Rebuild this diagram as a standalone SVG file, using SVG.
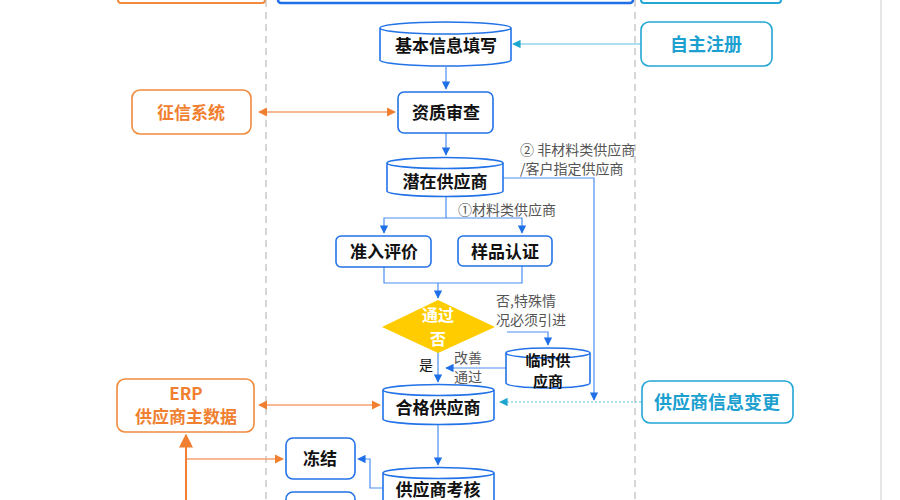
<svg xmlns="http://www.w3.org/2000/svg" width="900" height="500" viewBox="0 0 900 500">
<defs>
<style>
text{font-family:"Noto Sans CJK SC","Liberation Sans",sans-serif;}
.n{fill:#fff;stroke:#2272E8;stroke-width:1.6}
.o{fill:#fff;stroke:#F08A3C;stroke-width:1.6}
.c{fill:#fff;stroke:#23A7D4;stroke-width:1.6}
.t{font-size:17px;font-weight:bold;fill:#111;text-anchor:middle}
.to{font-size:17px;font-weight:bold;fill:#F08030;text-anchor:middle}
.tc{font-size:18px;font-weight:bold;fill:#1BA0CF;text-anchor:middle}
.lb{font-size:14px;fill:#555}
.b{fill:none;stroke:#4A8FF0;stroke-width:1.2}
.or{fill:none;stroke:#F5A070;stroke-width:1.3}
.cy{fill:none;stroke:#5CC0E0;stroke-width:1.2}
</style>
<marker id="ab" viewBox="0 0 10 10" refX="9" refY="5" markerWidth="7" markerHeight="7" orient="auto-start-reverse"><path d="M0,0L10,5L0,10z" fill="#1E6FE8"/></marker>
<marker id="ao" viewBox="0 0 10 10" refX="9" refY="5" markerWidth="7" markerHeight="7" orient="auto-start-reverse"><path d="M0,0L10,5L0,10z" fill="#F08030"/></marker>
<marker id="ac" viewBox="0 0 10 10" refX="9" refY="5" markerWidth="7" markerHeight="7" orient="auto-start-reverse"><path d="M0,0L10,5L0,10z" fill="#1BA6D0"/></marker>
</defs>
<rect width="900" height="500" fill="#fff"/>
<line x1="881" y1="0" x2="881" y2="500" stroke="#ddd" stroke-width="1.5"/>
<rect x="118" y="-6" width="147" height="9" rx="3" fill="#fff" stroke="#F08A3C" stroke-width="2"/>
<rect x="278" y="-6" width="355" height="9" rx="3" fill="#fff" stroke="#1E6FE8" stroke-width="2.5"/>
<rect x="641" y="-6" width="140" height="9" rx="3" fill="#fff" stroke="#23A7D4" stroke-width="2"/>
<line x1="266" y1="0" x2="266" y2="500" stroke="#bbb" stroke-width="1.2" stroke-dasharray="7,5"/>
<line x1="635" y1="0" x2="635" y2="500" stroke="#bbb" stroke-width="1.2" stroke-dasharray="7,5"/>

<g id="connectors">
<path class="b" d="M446,67V89" marker-end="url(#ab)"/>
<path class="cy" d="M641,44H513" marker-end="url(#ac)"/>
<path class="or" d="M259,112H395" marker-start="url(#ao)" marker-end="url(#ao)"/>
<path class="b" d="M446,133V155" marker-end="url(#ab)"/>
<path class="b" d="M503,178H594V400" marker-end="url(#ab)"/>
<path class="b" d="M446,197V218H384V233" marker-end="url(#ab)"/>
<path class="b" d="M446,218H522V233" marker-end="url(#ab)"/>
<path class="b" d="M384,267V283H522V266"/>
<path class="b" d="M438,283V298" marker-end="url(#ab)"/>
<path class="b" d="M507,332H548V345" marker-end="url(#ab)"/>
<path class="b" d="M506,368H446" marker-end="url(#ab)"/>
<path class="b" d="M438,352V382" marker-end="url(#ab)"/>
<path class="cy" d="M641,402H500" stroke-dasharray="2,2" marker-end="url(#ac)"/>
<path class="or" d="M259,405H380" marker-start="url(#ao)" marker-end="url(#ao)"/>
<path class="b" d="M438,424V465" marker-end="url(#ab)"/>
<path class="b" d="M383,488H370V459H358" marker-end="url(#ab)"/>
<path class="or" d="M186,459H283" marker-end="url(#ao)"/>
<path d="M186,500V435" fill="none" stroke="#F08030" stroke-width="2" marker-end="url(#ao)"/>
</g>

<g id="jiben"><path class="n" d="M380,28V60A65.5,6 0 0 0 511,60V28A65.5,6 0 0 0 380,28A65.5,6 0 0 0 511,28"/><text class="t" x="446" y="52">基本信息填写</text></g>
<g id="zizhu"><rect class="c" x="641" y="22" width="131" height="44" rx="8"/><text class="tc" x="706" y="51">自主注册</text></g>
<g id="zhengxin"><rect class="o" x="132" y="90" width="119" height="44" rx="8"/><text class="to" x="191" y="119">征信系统</text></g>
<g id="zizhi"><rect class="n" x="398" y="92" width="95" height="41" rx="6"/><text class="t" x="446" y="119">资质审查</text></g>
<g id="qianzai"><path class="n" d="M387,163V191A58,5.5 0 0 0 503,191V163A58,5.5 0 0 0 387,163A58,5.5 0 0 0 503,163"/><text class="t" x="445" y="188">潜在供应商</text></g>
<text class="lb" x="520" y="155">② 非材料类供应商</text>
<text class="lb" x="520" y="174">/客户指定供应商</text>
<text class="lb" x="458" y="215">①材料类供应商</text>
<g id="zhunru"><rect class="n" x="336" y="236" width="95" height="31" rx="5"/><text class="t" x="384" y="258">准入评价</text></g>
<g id="yangpin"><rect class="n" x="458" y="236" width="94" height="30" rx="5"/><text class="t" x="505" y="258">样品认证</text></g>
<g id="tongguo"><path d="M382,327L438,300L495,327L438,353Z" fill="#FFCC00"/><text x="438" y="321" font-size="16" font-weight="bold" fill="#fff" text-anchor="middle">通过</text><text x="438" y="345" font-size="16" font-weight="bold" fill="#fff" text-anchor="middle">否</text></g>
<text class="lb" x="496" y="306">否,特殊情</text>
<text class="lb" x="496" y="325">况必须引进</text>
<g id="linshi"><path class="n" d="M506,353V383A42,5 0 0 0 590,383V353A42,5 0 0 0 506,353A42,5 0 0 0 590,353"/><text x="548" y="366" font-size="15" font-weight="bold" fill="#111" text-anchor="middle">临时供</text><text x="548" y="387" font-size="15" font-weight="bold" fill="#111" text-anchor="middle">应商</text></g>
<text class="lb" x="454" y="363">改善</text>
<text class="lb" x="454" y="382">通过</text>
<text x="419" y="370" font-size="14" fill="#111">是</text>
<g id="hege"><path class="n" d="M383,390V419A55.5,5.5 0 0 0 494,419V390A55.5,5.5 0 0 0 383,390A55.5,5.5 0 0 0 494,390"/><text class="t" x="438" y="414">合格供应商</text></g>
<g id="biangeng"><rect class="c" x="642" y="381" width="151" height="42" rx="8"/><text class="tc" x="717" y="409">供应商信息变更</text></g>
<g id="erp"><rect class="o" x="117" y="379" width="137" height="53" rx="8"/><text class="to" x="186" y="400">ERP</text><text class="to" x="186" y="423">供应商主数据</text></g>
<g id="dongjie"><rect class="n" x="286" y="438" width="69" height="41" rx="7"/><text class="t" x="320" y="465">冻结</text></g>
<g id="kaohe"><path class="n" d="M383,473V505A55.5,5.5 0 0 0 494,505V473A55.5,5.5 0 0 0 383,473A55.5,5.5 0 0 0 494,473"/><text class="t" x="438" y="496">供应商考核</text></g>
<g id="box2"><rect class="n" x="286" y="492" width="69" height="30" rx="7"/></g>
</svg>
